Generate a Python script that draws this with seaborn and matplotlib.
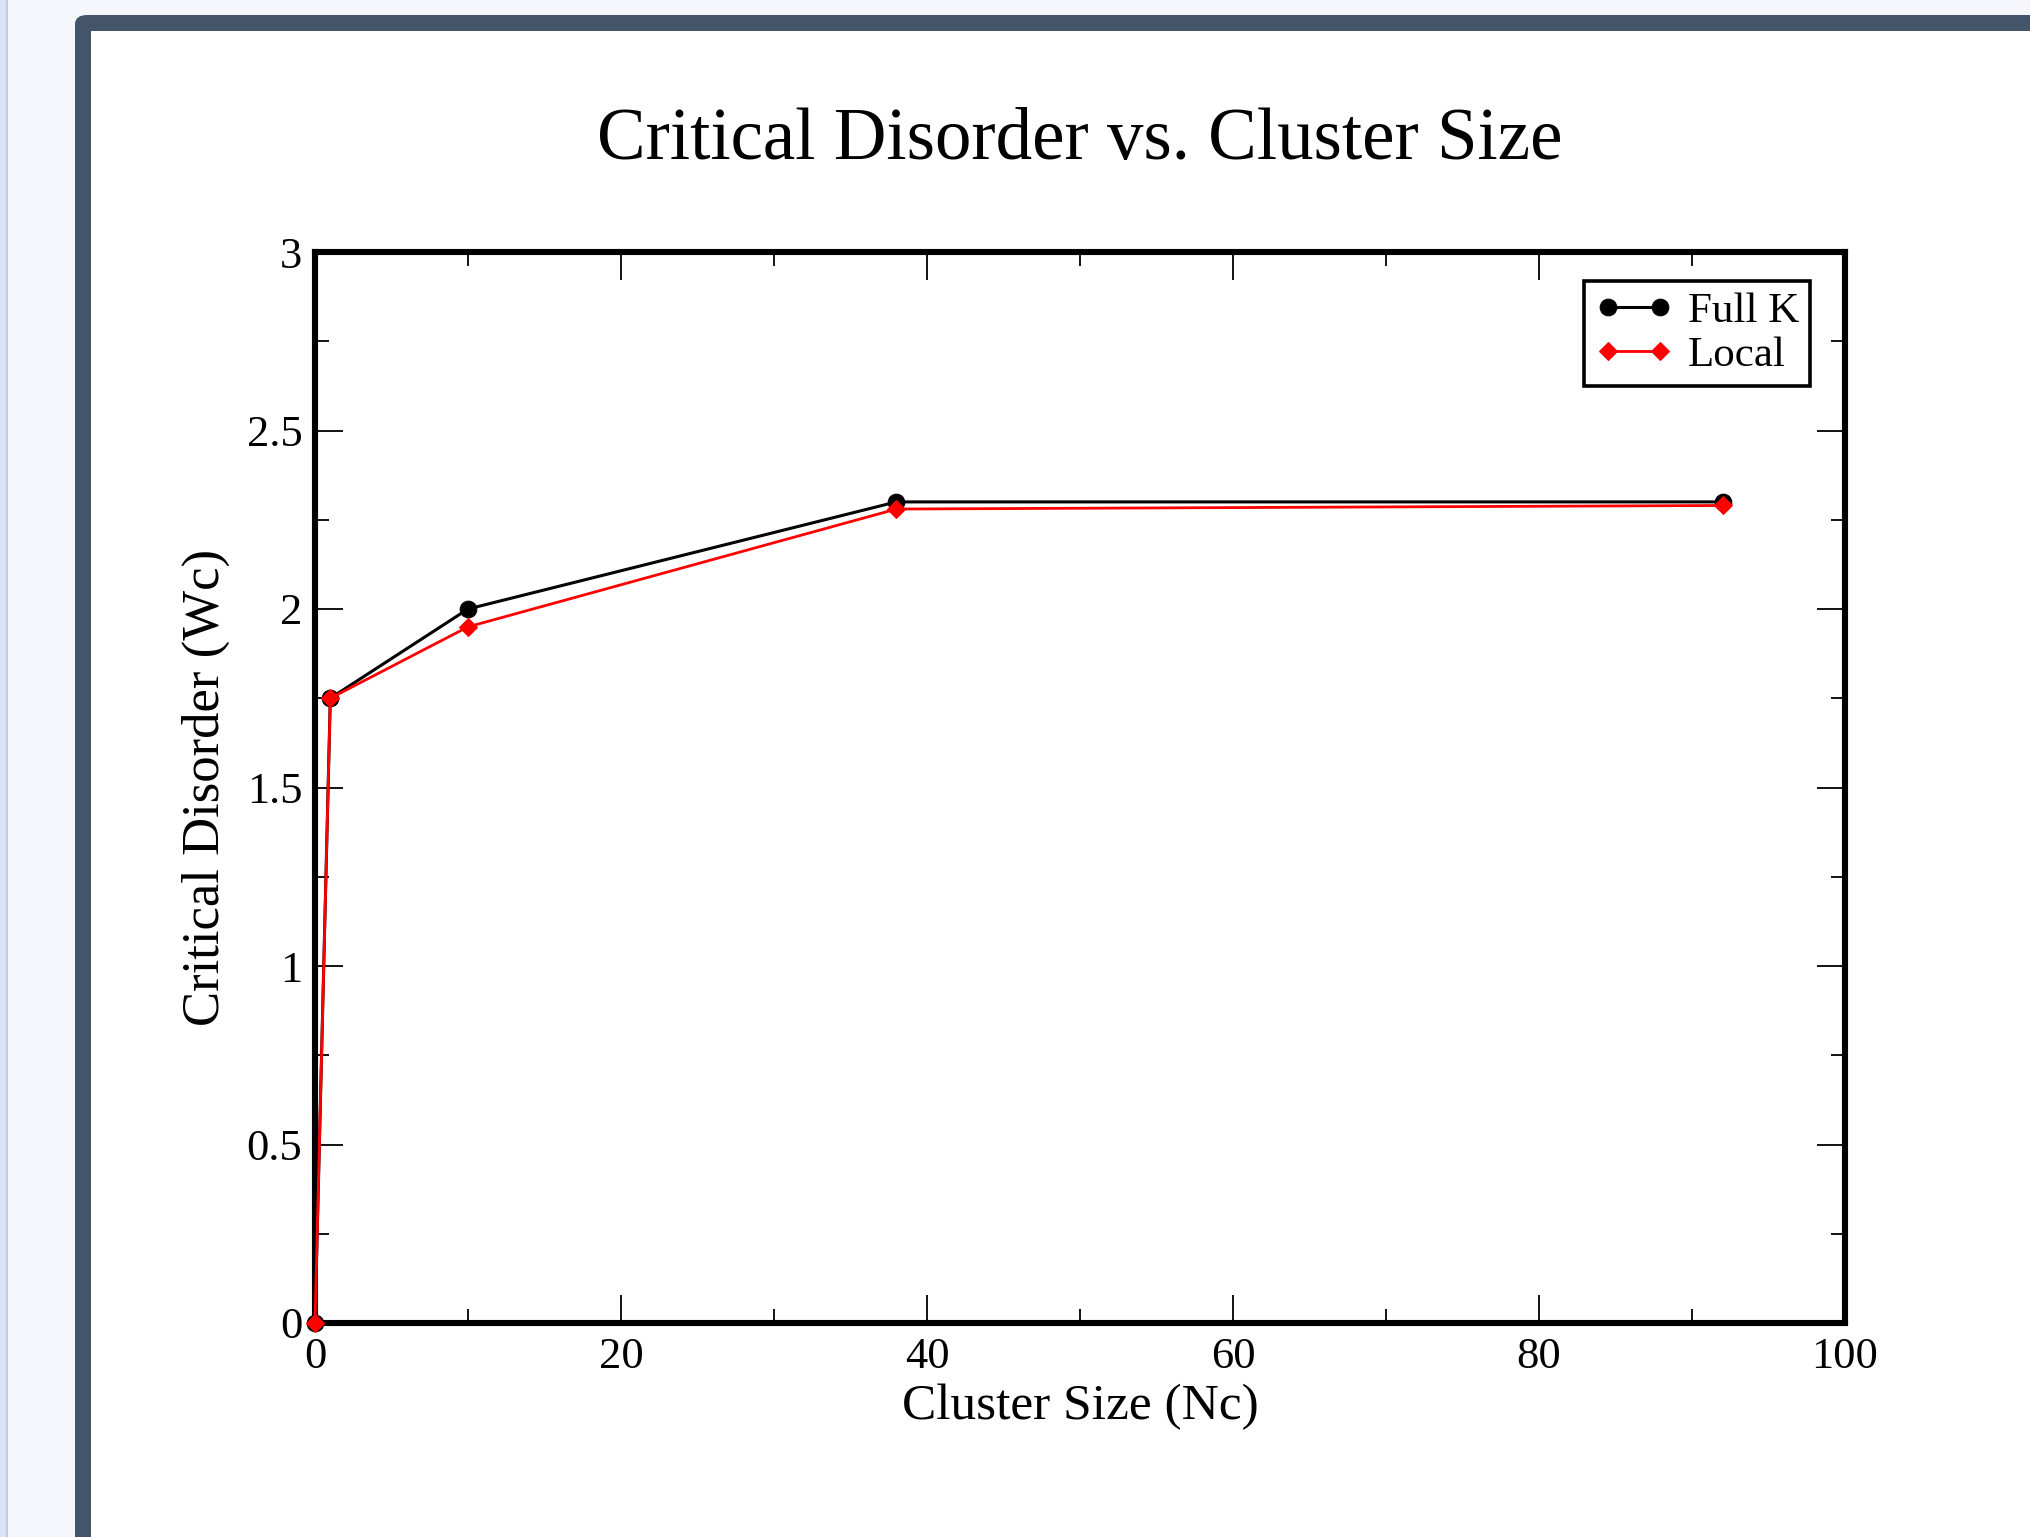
import matplotlib
matplotlib.use("Agg")
import matplotlib.pyplot as plt
from matplotlib.patches import FancyBboxPatch, Rectangle
import seaborn as sns
import pandas as pd

# ---- data ----
full_k_x = [0, 1, 10, 38, 92]
full_k_y = [0.0, 1.75, 2.0, 2.30, 2.30]
local_x = [0, 1, 10, 38, 92]
local_y = [0.0, 1.75, 1.95, 2.28, 2.29]

title = "Critical Disorder vs. Cluster Size"
xlabel = "Cluster Size (Nc)"
ylabel = "Critical Disorder (Wc)"

sns.set_style("ticks")
plt.rcParams['font.family'] = ['Liberation Serif', 'DejaVu Serif']
plt.rcParams['text.color'] = 'black'
plt.rcParams['axes.labelcolor'] = 'black'
plt.rcParams['xtick.color'] = 'black'
plt.rcParams['ytick.color'] = 'black'

W, H = 2030, 1537
fig = plt.figure(figsize=(W / 100, H / 100), dpi=100)
fig.patch.set_facecolor('#f5f7fc')

# page / window decoration (behind the axes)
fig.patches.append(Rectangle((0, 0), 7 / W, 1, transform=fig.transFigure,
                             facecolor='#dbe3f4', edgecolor='none', zorder=-10))
fig.patches.append(Rectangle((6 / W, 0), 2 / W, 1, transform=fig.transFigure,
                             facecolor='#bccdee', edgecolor='none', zorder=-10))
fig.patches.append(FancyBboxPatch((75 / W, -0.1), 2.0, 1 - 15 / H + 0.1,
                                  boxstyle="round,pad=0,rounding_size=0.006",
                                  transform=fig.transFigure,
                                  facecolor='#44546a', edgecolor='none', zorder=-9))
fig.patches.append(Rectangle((91 / W, -0.1), 2.0, 1 - 31 / H + 0.1,
                             transform=fig.transFigure,
                             facecolor='white', edgecolor='none', zorder=-8))

ax = fig.add_axes([315 / W, 1 - 1323 / H, (1845 - 315) / W, (1323 - 252) / H])
ax.set_zorder(1)
ax.set_facecolor('white')

df_full = pd.DataFrame({'x': full_k_x, 'y': full_k_y})
df_local = pd.DataFrame({'x': local_x, 'y': local_y})

sns.lineplot(data=df_full, x='x', y='y', ax=ax, color='black', lw=2.2,
             marker='o', markersize=12, markeredgecolor='black',
             label='Full K', sort=False, clip_on=False, zorder=3)
sns.lineplot(data=df_local, x='x', y='y', ax=ax, color='red', lw=2.0,
             marker='D', markersize=9, markeredgecolor='red',
             label='Local', sort=False, clip_on=False, zorder=4)

ax.set_xlim(0, 100)
ax.set_ylim(0, 3)
ax.set_xticks([0, 20, 40, 60, 80, 100])
ax.set_xticks([10, 30, 50, 70, 90], minor=True)
ax.set_yticks([0, 0.5, 1, 1.5, 2, 2.5, 3])
ax.set_yticklabels(['0', '0.5', '1', '1.5', '2', '2.5', '3'])
ax.set_yticks([0.25, 0.75, 1.25, 1.75, 2.25, 2.75], minor=True)

ax.tick_params(which='both', direction='in', top=True, right=True,
               color='black', labelcolor='black', labelsize=32)
ax.tick_params(which='major', length=20, width=1.3)
ax.tick_params(which='minor', length=10, width=1.3)
ax.tick_params(axis='x', which='major', pad=10)
ax.tick_params(axis='y', which='major', pad=9)
for s in ax.spines.values():
    s.set_linewidth(4.4)
    s.set_color('black')
    s.set_visible(True)

ax.set_xlabel(xlabel, fontsize=37, labelpad=5, color='black')
ax.set_ylabel(ylabel, fontsize=38, labelpad=12, color='black')
fig.text(1080 / W, 1 - 141 / H, title, ha='center', va='center',
         fontsize=52.5, color='black')

leg = ax.legend(loc='upper right', bbox_to_anchor=(0.977, 0.973), fontsize=31,
                frameon=True, fancybox=False, edgecolor='black', framealpha=1,
                numpoints=2, handlelength=1.8, handletextpad=0.35,
                borderpad=0.25, labelspacing=0.12, borderaxespad=0)
leg.get_frame().set_linewidth(2.6)
for t in leg.get_texts():
    t.set_color('black')

fig.savefig('out.png', dpi=100, facecolor=fig.get_facecolor())
